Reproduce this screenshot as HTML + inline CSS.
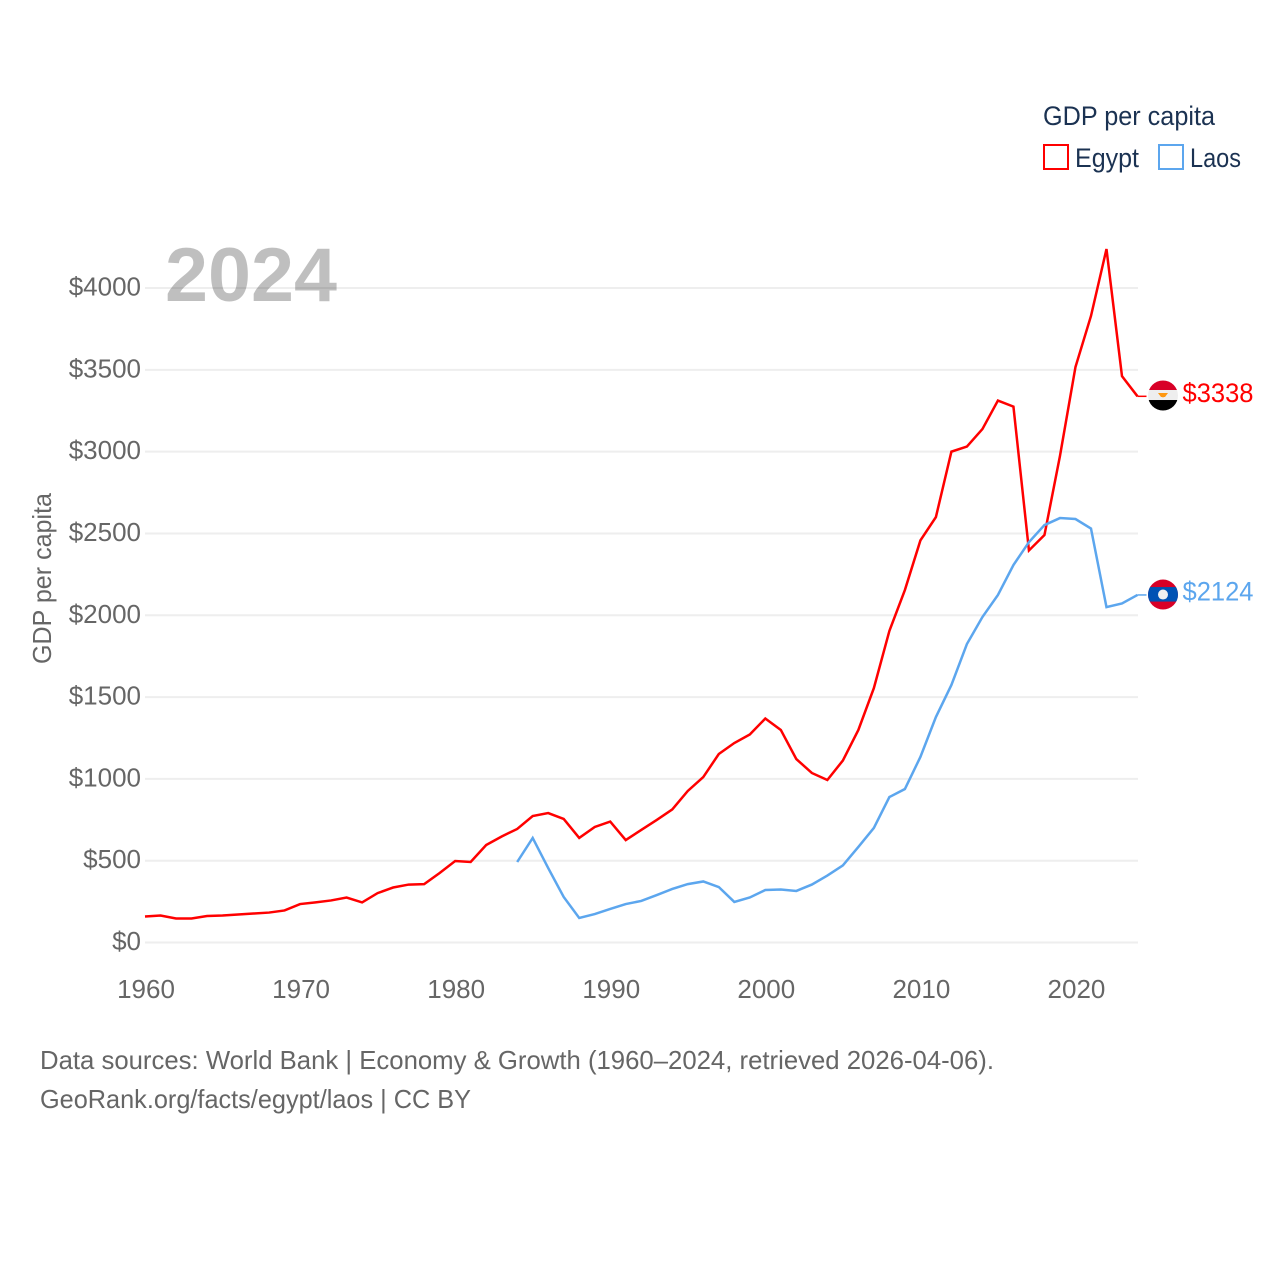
<!DOCTYPE html>
<html lang="en">
<head>
<meta charset="utf-8">
<title>GDP per capita: Egypt and Laos</title>
<style>
  html, body { margin: 0; padding: 0; background: #fff; }
  svg { display: block; }
  text { font-family: "Liberation Sans", sans-serif; }
</style>
</head>
<body>
<svg id="chart" xmlns="http://www.w3.org/2000/svg" width="1280" height="1280" viewBox="0 0 1280 1280">
  <rect width="1280" height="1280" fill="#ffffff"/>
  <g id="grid"></g>
  <g id="yticks"></g>
  <g id="xticks"></g>
  <text transform="translate(51,578.5) rotate(-90)" text-anchor="middle" font-size="26" fill="#666666" textLength="171" lengthAdjust="spacingAndGlyphs">GDP per capita</text>
  <g id="series"></g>
  <text x="165" y="301" font-size="76" font-weight="700" fill="#000000" fill-opacity="0.25" textLength="172" lengthAdjust="spacingAndGlyphs">2024</text>

  <g>
    <text x="1043" y="125" font-size="27" fill="#1b3252" textLength="172" lengthAdjust="spacingAndGlyphs">GDP per capita</text>
    <g>
      <rect x="1044" y="145" width="24" height="24" fill="none" stroke="#ff0000" stroke-width="2"/>
      <text x="1075" y="167" font-size="27" fill="#1b3252" textLength="64" lengthAdjust="spacingAndGlyphs">Egypt</text>
    </g>
    <g>
      <rect x="1159" y="145" width="24" height="24" fill="none" stroke="#5ca6ee" stroke-width="2"/>
      <text x="1190" y="167" font-size="27" fill="#1b3252" textLength="51" lengthAdjust="spacingAndGlyphs">Laos</text>
    </g>
  </g>

  <defs>
    <clipPath id="flag-clip-egypt"><circle id="clip-egypt" cx="1163" cy="396" r="15"/></clipPath>
    <clipPath id="flag-clip-laos"><circle id="clip-laos" cx="1163" cy="594.5" r="15"/></clipPath>
  </defs>
  <g id="flag-egypt" clip-path="url(#flag-clip-egypt)">
    <rect x="1148" y="381" width="30" height="9.5" fill="#d80027"/>
    <rect x="1148" y="390.5" width="30" height="10" fill="#eeeeee"/>
    <rect x="1148" y="400.5" width="30" height="11" fill="#000000"/>
    <path d="M1158 393.5h10l-3 4h-1.5l-.5 1-.5-1H1161z" fill="#ff9811"/>
  </g>
  <g id="flag-laos" clip-path="url(#flag-clip-laos)">
    <rect x="1148" y="579" width="30" height="32" fill="#d80027"/>
    <rect x="1148" y="587" width="30" height="14.5" fill="#0052b4"/>
    <circle cx="1163" cy="594.5" r="5" fill="#f0f0f0"/>
  </g>

  <g>
    <text x="40" y="1069" font-size="26" fill="#666666" textLength="954" lengthAdjust="spacingAndGlyphs">Data sources: World Bank | Economy &amp; Growth (1960–2024, retrieved 2026-04-06).</text>
    <text x="40" y="1108" font-size="26" fill="#666666" textLength="431" lengthAdjust="spacingAndGlyphs">GeoRank.org/facts/egypt/laos | CC BY</text>
  </g>
</svg>
<script>
const yTickValues = [0, 500, 1000, 1500, 2000, 2500, 3000, 3500, 4000];
const xTickYears = [1960, 1970, 1980, 1990, 2000, 2010, 2020];
const egyptStartYear = 1960;
const egyptValues = [159, 165, 147, 147, 162, 165, 171, 177, 183, 196,
  235, 245, 257, 275, 245, 302, 336, 354, 357, 425,
  498, 492, 596, 648, 694, 773, 791, 755, 639, 706,
  739, 626, 688, 749, 813, 926, 1011, 1152, 1219, 1271,
  1369, 1299, 1121, 1036, 993, 1112, 1299, 1555, 1904, 2154,
  2457, 2600, 3000, 3031, 3138, 3312, 3275, 2396, 2490, 2973,
  3517, 3829, 4238, 3461, 3338];
const laosStartYear = 1984;
const laosValues = [492, 639, 455, 278, 150, 174, 205, 235, 254, 290,
  327, 357, 373, 339, 248, 275, 321, 324, 315, 354,
  409, 471, 584, 700, 889, 938, 1134, 1378, 1574, 1824,
  1989, 2124, 2307, 2447, 2551, 2594, 2588, 2530, 2050, 2072, 2124];

const NS = 'http://www.w3.org/2000/svg';
const plotLeft = 145, plotRight = 1137.5, plotBottom = 942.5, plotTopValue = 4000, plotTop = 288;
const yearMin = 1960, yearMax = 2024;

function xScale(year) {
  return plotLeft + (year - yearMin) / (yearMax - yearMin) * (plotRight - plotLeft);
}
function yScale(value) {
  return plotBottom - value / plotTopValue * (plotBottom - plotTop);
}
function make(tag, attrs, parent, content) {
  const el = document.createElementNS(NS, tag);
  for (const key in attrs) el.setAttribute(key, attrs[key]);
  if (content !== undefined) el.textContent = content;
  parent.appendChild(el);
  return el;
}

const gridGroup = document.getElementById('grid');
const yTickGroup = document.getElementById('yticks');
const xTickGroup = document.getElementById('xticks');
const seriesGroup = document.getElementById('series');

yTickValues.forEach(function (v) {
  const line = make('line', { x1: plotLeft, x2: plotRight + 0.5, y1: yScale(v), y2: yScale(v), stroke: '#eeeeee', 'stroke-width': 2 }, gridGroup);
  
  
  const label = make('text', { x: 141, y: yScale(v) + 7.5, 'text-anchor': 'end', 'font-size': 26, fill: '#666666' }, yTickGroup, '$' + v);
  
  
});

xTickYears.forEach(function (year) {
  const label = make('text', { x: xScale(year) + 1, y: 998, 'text-anchor': 'middle', 'font-size': 26, fill: '#666666' }, xTickGroup, String(year));
  
  
});

function drawSeries(values, startYear, color, seriesName) {
  const pts = values.map(function (v, i) {
    return xScale(startYear + i).toFixed(2) + ',' + yScale(v).toFixed(2);
  });
  const lastValue = values[values.length - 1];
  const lastY = yScale(lastValue);
  const line = make('polyline', { points: pts.join(' '), fill: 'none', stroke: color, 'stroke-width': 2.5, 'stroke-linejoin': 'miter' }, seriesGroup);
  
  
  const leader = make('line', { x1: xScale(yearMax), x2: xScale(yearMax) + 9, y1: lastY, y2: lastY, stroke: color, 'stroke-width': 1.5 }, seriesGroup);
  
  
  const valueLabel = make('text', { x: 1182.5, y: lastY + 5.5, 'font-size': 27, fill: color, textLength: 71, lengthAdjust: 'spacingAndGlyphs' }, seriesGroup, '$' + lastValue);
  
  
  return lastY;
}

const egyptEndY = drawSeries(egyptValues, egyptStartYear, '#ff0000', 'egypt');
const laosEndY = drawSeries(laosValues, laosStartYear, '#5ca6ee', 'laos');

document.getElementById('flag-egypt').setAttribute('transform', 'translate(0,' + (egyptEndY - 396.8) + ')');
document.getElementById('flag-laos').setAttribute('transform', 'translate(0,' + (laosEndY - 594.9) + ')');
</script>
</body>
</html>
